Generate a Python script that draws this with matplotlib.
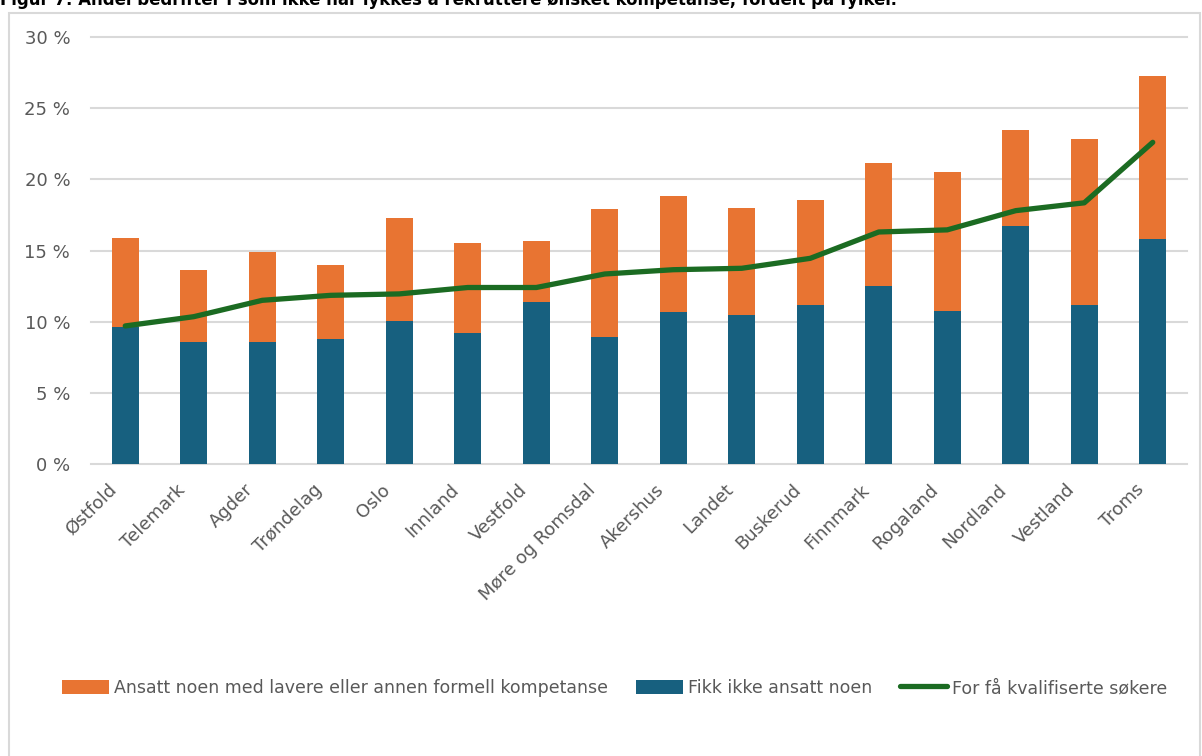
import matplotlib.pyplot as plt
from matplotlib.patches import Rectangle
from matplotlib.ticker import FuncFormatter
from matplotlib.transforms import ScaledTranslation
import numpy as np

# data
fylker = ['Østfold', 'Telemark', 'Agder', 'Trøndelag', 'Oslo', 'Innland', 'Vestfold',
          'Møre og Romsdal', 'Akershus', 'Landet', 'Buskerud', 'Finnmark', 'Rogaland',
          'Nordland', 'Vestland', 'Troms']
fikk_ikke = [9.65, 8.55, 8.6, 8.8, 10.05, 9.2, 11.4, 8.95, 10.65, 10.45, 11.2, 12.5,
             10.75, 16.75, 11.15, 15.8]
totalt = [15.9, 13.6, 14.9, 13.95, 17.25, 15.55, 15.65, 17.95, 18.85, 18.0, 18.55, 21.15,
          20.55, 23.45, 22.85, 27.25]
lavere = [t - f for t, f in zip(totalt, fikk_ikke)]
for_faa = [9.7, 10.35, 11.5, 11.85, 11.95, 12.4, 12.4, 13.35, 13.65, 13.75, 14.45, 16.3,
           16.45, 17.8, 18.35, 22.6]

BLUE = '#17607F'
ORANGE = '#E87432'
GREEN = '#1B6B22'
GRID = '#D9D9D9'
TXT = '#595959'

W, H = 1202, 756
fig = plt.figure(figsize=(W / 100, H / 100), dpi=100, facecolor='white')

# chart frame
fig.add_artist(Rectangle((8.5 / W, -0.02), 1191 / W, 1 - 12.5 / H + 0.02,
                         transform=fig.transFigure, fill=False, edgecolor=GRID, lw=1.5))

# title, cut off at top like in the source
fig.text(0.0, 1 - 5 / H, 'Figur 7: Andel bedrifter i som ikke har lykkes å rekruttere '
         'ønsket kompetanse, fordelt på fylker.',
         family=['Liberation Sans Narrow', 'DejaVu Sans'], fontstretch='condensed',
         fontweight='bold', fontsize=13.2, color='black', ha='left', va='baseline')

ax = fig.add_axes([91 / W, 1 - 464 / H, 1096 / W, 427 / H])
x = np.arange(len(fylker))
bw = 0.39
ax.bar(x, fikk_ikke, width=bw, color=BLUE, label='Fikk ikke ansatt noen', zorder=2)
ax.bar(x, lavere, width=bw, bottom=fikk_ikke, color=ORANGE,
       label='Ansatt noen med lavere eller annen formell kompetanse', zorder=2)
ax.plot(x, for_faa, color=GREEN, lw=3.8, solid_capstyle='round', solid_joinstyle='round',
        label='For få kvalifiserte søkere', zorder=3)

ax.set_xlim(-0.5, len(fylker) - 0.5)
ax.set_ylim(0, 30)
ax.set_yticks(np.arange(0, 31, 5))
ax.yaxis.set_major_formatter(FuncFormatter(lambda v, p: '%d %%' % v))
ax.grid(axis='y', color=GRID, lw=1.5, zorder=0)
for gl in ax.get_ygridlines():
    gl.set_clip_on(False)
for s in ax.spines.values():
    s.set_visible(False)
ax.tick_params(axis='both', length=0, colors=TXT, labelsize=13)
ax.tick_params(axis='y', pad=15)
ax.set_xticks(x)
ax.set_xticklabels(fylker, rotation=45, ha='right', rotation_mode='anchor')
ax.tick_params(axis='x', pad=12)
shift = ScaledTranslation(-18 / 100, 0, fig.dpi_scale_trans)
for lab in ax.get_xticklabels():
    lab.set_transform(lab.get_transform() + shift)

h, l = ax.get_legend_handles_labels()
order = [2, 1, 0]
fig.legend([h[i] for i in order], [l[i] for i in order], loc='center',
           bbox_to_anchor=(615 / W, 1 - 688 / H), ncol=3, frameon=False,
           fontsize=12.5, labelcolor=TXT, handlelength=2.7, handleheight=0.9,
           handletextpad=0.3, columnspacing=1.6)

fig.savefig('out.png', dpi=100, facecolor='white')
